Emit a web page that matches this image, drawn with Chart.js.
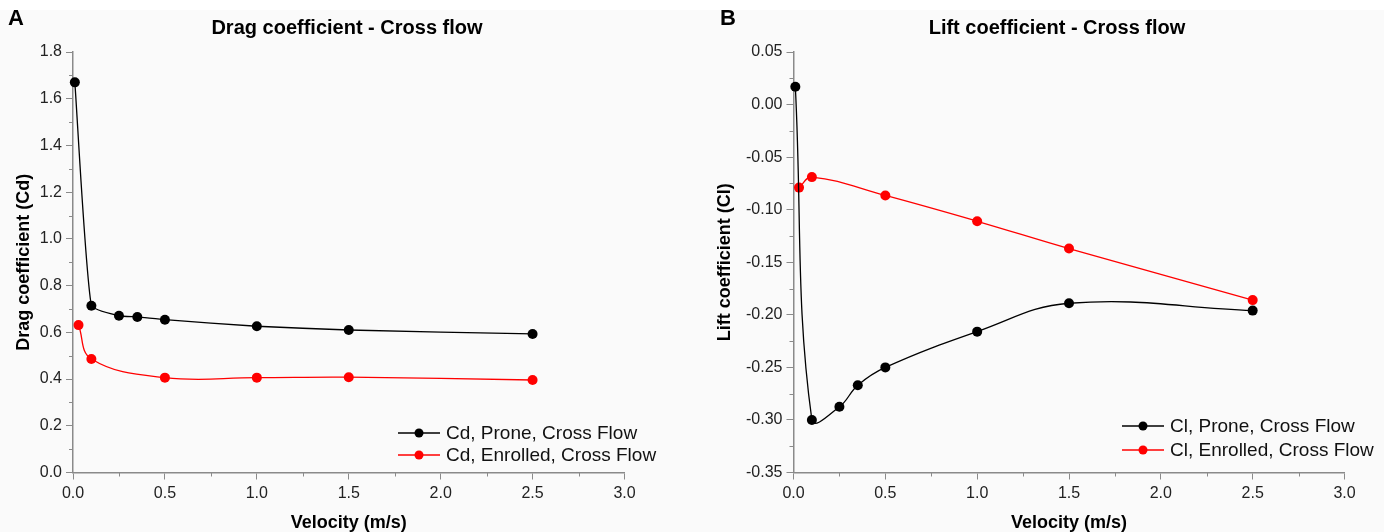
<!DOCTYPE html>
<html>
<head>
<meta charset="utf-8">
<script src="https://cdn.jsdelivr.net/npm/chart.js@4"></script>
<style>
  body { margin: 0; width: 1384px; height: 532px; overflow: hidden;
         background: linear-gradient(#ffffff 0 10px, #fafafa 10px); }
  .panel { position: absolute; top: 0; width: 692px; height: 532px; }
</style>
</head>
<body>
<div class="panel" style="left:0"><canvas id="dragChart" width="692" height="532"></canvas></div>
<div class="panel" style="left:692px"><canvas id="liftChart" width="692" height="532"></canvas></div>
<script>
// velocities (m/s)
const velProne = [0.01, 0.1, 0.25, 0.35, 0.5, 1.0, 1.5, 2.5];
const velEnrolled = [0.03, 0.1, 0.5, 1.0, 1.5, 2.5];

// drag coefficient
const cdProne = [1.670, 0.714, 0.671, 0.666, 0.654, 0.626, 0.610, 0.593];
const cdEnrolled = [0.631, 0.486, 0.406, 0.406, 0.408, 0.396];

// lift coefficient
const clProne = [0.017, -0.300, -0.2875, -0.267, -0.250, -0.216, -0.189, -0.196];
const clEnrolled = [-0.079, -0.069, -0.0865, -0.111, -0.137, -0.186];

// tick labels
const xTicks = [0.0, 0.5, 1.0, 1.5, 2.0, 2.5, 3.0];
const cdTicks = [0.0, 0.2, 0.4, 0.6, 0.8, 1.0, 1.2, 1.4, 1.6, 1.8];
const clTicks = [-0.35, -0.30, -0.25, -0.20, -0.15, -0.10, -0.05, 0.00, 0.05];

const FONT = "'Liberation Sans', Arial, sans-serif";
const AXIS = "#8a8a8a";

const pts = (xs, ys) => xs.map((x, i) => ({ x: x, y: ys[i] }));

function series(label, xs, ys, color, tension) {
  return {
    label: label,
    data: pts(xs, ys),
    showLine: true,
    borderColor: color,
    backgroundColor: color,
    borderWidth: 1.3,
    pointRadius: 5,
    pointHoverRadius: 5,
    pointBorderWidth: 0,
    tension: tension,
    clip: false,
  };
}

// panel letter, title, legend, minor ticks
const decor = {
  id: "decor",
  afterDraw(chart, args, o) {
    const ctx = chart.ctx;
    ctx.save();
    ctx.fillStyle = "#000";
    ctx.textBaseline = "middle";
    ctx.textAlign = "left";
    ctx.font = "bold 22px " + FONT;
    ctx.fillText(o.letter, o.letterX, 19);
    ctx.textAlign = "center";
    ctx.font = "bold 20px " + FONT;
    ctx.fillText(o.title, o.titleX, 28);

    // minor ticks
    ctx.strokeStyle = AXIS;
    ctx.lineWidth = 1;
    const xs = chart.scales.x, ys = chart.scales.y;
    for (let v = xs.min + o.xMinor; v < xs.max; v += 2 * o.xMinor) {
      const px = Math.round(xs.getPixelForValue(v)) + 0.5;
      ctx.beginPath(); ctx.moveTo(px, xs.top); ctx.lineTo(px, xs.top + 4); ctx.stroke();
    }
    for (let v = ys.min + o.yMinor; v < ys.max; v += 2 * o.yMinor) {
      const py = Math.round(ys.getPixelForValue(v)) + 0.5;
      ctx.beginPath(); ctx.moveTo(ys.right, py); ctx.lineTo(ys.right - 4, py); ctx.stroke();
    }

    // legend
    ctx.textAlign = "left";
    ctx.font = "19px " + FONT;
    chart.data.datasets.forEach((ds, i) => {
      const y = o.legendY[i];
      ctx.strokeStyle = ds.borderColor;
      ctx.lineWidth = 1.3;
      ctx.beginPath(); ctx.moveTo(o.legendX, y); ctx.lineTo(o.legendX + 42, y); ctx.stroke();
      ctx.fillStyle = ds.backgroundColor;
      ctx.beginPath(); ctx.arc(o.legendX + 21, y, 4.5, 0, Math.PI * 2); ctx.fill();
      ctx.fillStyle = "#111";
      ctx.fillText(ds.label, o.legendX + 48, y + 1);
    });
    ctx.restore();
  },
};

function makeChart(id, datasets, cfg) {
  return new Chart(document.getElementById(id), {
    type: "scatter",
    data: { datasets: datasets },
    plugins: [decor],
    options: {
      responsive: false,
      animation: false,
      devicePixelRatio: 1,
      layout: { padding: { left: 0, top: 52, right: cfg.padRight, bottom: 0 } },
      plugins: {
        legend: { display: false },
        tooltip: { enabled: false },
        decor: cfg.decor,
      },
      scales: {
        x: {
          type: "linear",
          min: 0, max: 3,
          afterBuildTicks: (s) => { s.ticks = xTicks.map((v) => ({ value: v })); },
          afterFit: (s) => { s.height = 59.5; },
          border: { color: AXIS, width: 1.5 },
          grid: { drawOnChartArea: false, tickLength: 7, tickColor: AXIS, tickWidth: 1 },
          ticks: { padding: 4, color: "#222", font: { family: FONT, size: 16 },
                   maxRotation: 0, callback: (v) => v.toFixed(1) },
          title: { display: true, text: "Velocity (m/s)", color: "#000",
                   font: { family: FONT, size: 18, weight: "bold", lineHeight: 1 },
                   padding: { top: 0, bottom: 0 } },
        },
        y: {
          min: cfg.yMin, max: cfg.yMax,
          afterBuildTicks: (s) => { s.ticks = cfg.yTicks.map((v) => ({ value: v })); },
          afterFit: (s) => { s.width = cfg.yWidth; },
          border: { color: AXIS, width: 1.5 },
          grid: { drawOnChartArea: false, tickLength: 7, tickColor: AXIS, tickWidth: 1 },
          ticks: { padding: 4, color: "#222", font: { family: FONT, size: 16 },
                   callback: (v) => v.toFixed(cfg.digits) },
          title: { display: true, text: cfg.yTitle, color: "#000",
                   font: { family: FONT, size: 18, weight: "bold", lineHeight: 1.2 },
                   padding: { top: cfg.yTitlePad, bottom: 0 } },
        },
      },
    },
  });
}

makeChart("dragChart", [
  series("Cd, Prone, Cross Flow", velProne, cdProne, "#000000", 0.15),
  series("Cd, Enrolled, Cross Flow", velEnrolled, cdEnrolled, "#ff0000", 0.4),
], {
  padRight: 67.5, yWidth: 73, yMin: 0, yMax: 1.8, yTicks: cdTicks, digits: 1,
  yTitle: "Drag coefficient (Cd)", yTitlePad: 13,
  decor: { letter: "A", letterX: 8, title: "Drag coefficient - Cross flow", titleX: 347,
           xMinor: 0.25, yMinor: 0.1, legendX: 398, legendY: [433, 455] },
});

makeChart("liftChart", [
  series("Cl, Prone, Cross Flow", velProne, clProne, "#000000", 0.4),
  series("Cl, Enrolled, Cross Flow", velEnrolled, clEnrolled, "#ff0000", 0.4),
], {
  padRight: 39.5, yWidth: 101.5, yMin: -0.35, yMax: 0.05, yTicks: clTicks, digits: 2,
  yTitle: "Lift coefficient (Cl)", yTitlePad: 22,
  decor: { letter: "B", letterX: 28, title: "Lift coefficient - Cross flow", titleX: 365,
           xMinor: 0.25, yMinor: 0.025, legendX: 430, legendY: [426, 450] },
});
</script>
</body>
</html>
